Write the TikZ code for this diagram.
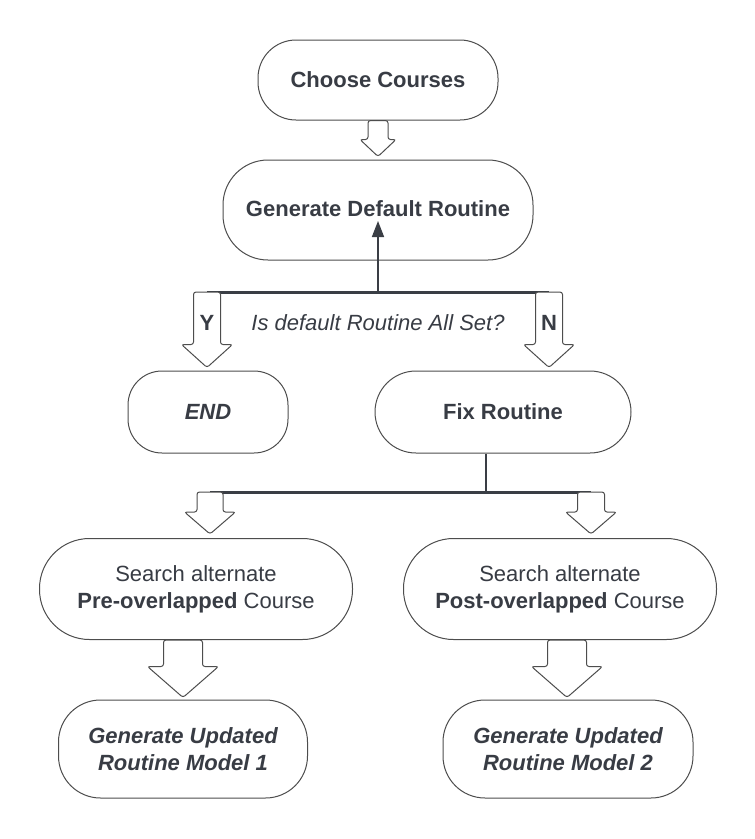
\documentclass[tikz,border=0pt]{standalone}
\usepackage{fontspec}
\setmainfont{Liberation Sans}
\usetikzlibrary{arrows.meta,calc}
\definecolor{txt}{HTML}{383C44}
\definecolor{edge}{HTML}{4D4D4D}
\definecolor{conn}{HTML}{3A3E45}
\tikzset{
  base/.style={draw=edge, line width=1pt, fill=white, text=txt, align=center,
    font=\fontsize{22}{27}\selectfont, inner sep=0pt},
  pill/.style={base, rounded corners=#1},
  barrowline/.style={draw=edge, line width=1pt, fill=white, rounded corners=2.5pt},
  joinline/.style={draw=conn, line width=3pt},
  lbl/.style={text=txt, font=\fontsize{22}{27}\selectfont, inner sep=0pt}
}
% block arrow: #1 x, #2 top coordinate, #3 bottom coordinate, #4 shaft half width, #5 head half width, #6 head length
\newcommand\blockarr[6]{%
  \path[barrowline] let \p1=(#2), \p2=(#3) in
    (#1-#4, \y1) -- (#1+#4, \y1) -- (#1+#4, \y2+#6) -- (#1+#5, \y2+#6)
    -- (#1, \y2) -- (#1-#5, \y2+#6) -- (#1-#4, \y2+#6) -- cycle;}
\begin{document}
\begin{tikzpicture}[x=1pt,y=-1pt]
\useasboundingbox (0,0) rectangle (755,839);

% nodes
\node[pill=38pt, minimum width=240pt, minimum height=80pt] (cc) at (378,80) {\bfseries Choose Courses};
\node[pill=45pt, minimum width=310pt, minimum height=100pt] (gd) at (378,210) {\raisebox{3pt}{\bfseries Generate Default Routine}};
\node[pill=34pt, minimum width=160pt, minimum height=82pt] (endn) at (208,412) {\bfseries\itshape END};
\node[pill=41pt, minimum width=256pt, minimum height=82pt] (fix) at (503,412) {\bfseries Fix Routine};
\node[pill=50pt, minimum width=313pt, minimum height=101pt] (s1) at (196,589) {Search alternate\\\textbf{Pre-overlapped} Course};
\node[pill=50pt, minimum width=313pt, minimum height=101pt] (s2) at (560,589) {Search alternate\\\textbf{Post-overlapped} Course};
\node[pill=42pt, minimum width=249pt, minimum height=98pt] (g1) at (183,749) {\bfseries\itshape Generate Updated\\\bfseries\itshape Routine Model 1};
\node[pill=42pt, minimum width=250pt, minimum height=98pt] (g2) at (568,749) {\bfseries\itshape Generate Updated\\\bfseries\itshape Routine Model 2};

% junction coordinates
\coordinate (j1) at (378,292);
\coordinate (yt) at (207,292);
\coordinate (nt) at (549,292);
\coordinate (j2) at (486,492);
\coordinate (lt) at (210,492);
\coordinate (rt) at (591,492);

% connectors
\draw[joinline] (yt) -- (nt);
\draw[draw=conn, line width=1.6pt, -{Triangle[length=16pt,width=12pt]}] (j1) -- ($(gd.center)+(0,11)$);
\draw[draw=conn, line width=2.5pt] (fix.south -| j2) -- (j2);
\draw[joinline] (lt) -- (rt);

% block arrows
\blockarr{378}{cc.south}{$(gd.north)+(0,-3)$}{10}{18}{17}
\blockarr{207}{yt}{$(endn.north)+(0,-3)$}{13.5}{25.5}{23}
\blockarr{549}{nt}{$(fix.north)+(0,-3)$}{13.5}{25.5}{23}
\blockarr{210}{lt}{$(s1.north)+(0,-4)$}{13}{25.5}{22}
\blockarr{591}{rt}{$(s2.north)+(0,-4)$}{13.5}{25.5}{22}
\blockarr{183}{s1.south}{$(g1.north)+(0,-2)$}{19.5}{35.5}{31}
\blockarr{567}{s2.south}{$(g2.north)+(0,-2)$}{19.5}{35.5}{31}

% labels
\node[lbl, font=\fontsize{22}{27}\selectfont\bfseries] (ylab) at (207,323) {Y};
\node[lbl, font=\fontsize{22}{27}\selectfont\bfseries] (nlab) at (549,323) {N};
\node[lbl, font=\fontsize{22}{27}\selectfont\itshape] (q) at (378,323) {Is default Routine All Set?};
\end{tikzpicture}
\end{document}
